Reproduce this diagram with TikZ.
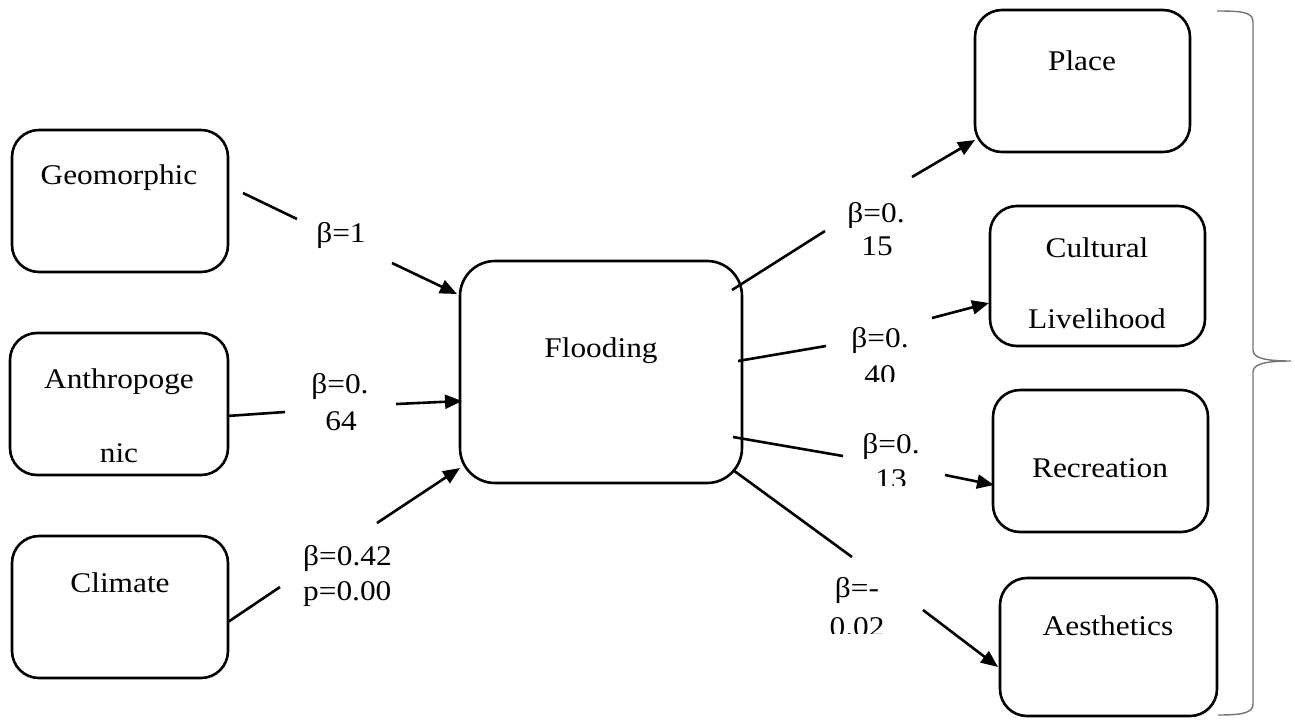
\documentclass[tikz,border=0pt]{standalone}
\usepackage{fontspec}
\setmainfont{Liberation Serif}[FakeStretch=1.1]
\usetikzlibrary{arrows.meta}
\begin{document}
\begin{tikzpicture}[x=1pt,y=-1pt,
  box/.style={draw, line width=2.6pt, rounded corners=27pt, inner sep=0pt},
  bigbox/.style={box, rounded corners=35pt},
  txt/.style={font=\fontsize{28.5}{36}\selectfont, anchor=base, inner sep=0pt},
  ltxt/.style={txt, anchor=base west},
  seg/.style={line width=2.6pt},
  arr/.style={line width=2.6pt, -{Triangle[length=17pt,width=14pt]}},
  brace/.style={draw=black!55, line width=1.4pt},
]
\useasboundingbox (0,0) rectangle (1295,723);

% ---- boxes ----
\node[box, minimum width=216pt, minimum height=142pt] (geo)   at (120,201) {};
\node[box, minimum width=218pt, minimum height=142pt] (anth)  at (119,404) {};
\node[box, minimum width=216pt, minimum height=142pt] (clim)  at (120,607) {};
\node[bigbox, minimum width=282pt, minimum height=222pt] (flood) at (601,372) {};
\node[box, minimum width=215pt, minimum height=142pt] (place) at (1082.5,81) {};
\node[box, minimum width=215pt, minimum height=140pt] (cult)  at (1097.5,276) {};
\node[box, minimum width=215pt, minimum height=142pt] (rec)   at (1100.5,461) {};
\node[box, minimum width=217pt, minimum height=138pt] (aes)   at (1108.5,647) {};

% ---- box texts ----
\node[txt] (geo-t)   at (119,184) {Geomorphic};
\node[txt] (anth-t1) at (119,388) {Anthropoge};
\node[txt] (anth-t2) at (119,462) {nic};
\node[txt] (clim-t)  at (120,592) {Climate};
\node[txt] (flood-t) at (601,357) {Flooding};
\node[txt] (place-t) at (1082,70) {Place};
\node[txt] (cult-t1) at (1097,257) {Cultural};
\node[txt] (cult-t2) at (1097,328) {Livelihood};
\node[txt] (rec-t)   at (1100,477) {Recreation};
\node[txt] (aes-t)   at (1108,635) {Aesthetics};

% ---- path coefficients ----
\node[txt] (b1)  at (341,242) {β=1};
\node[txt] (b2a) at (340,393) {β=0.};
\node[txt] (b2b) at (341,430) {64};
\node[ltxt] (b3a) at (303,565) {β=0.42};
\node[ltxt] (b3b) at (303,600) {p=0.00};
\node[txt] (b4a) at (876,222) {β=0.};
\node[txt] (b4b) at (877,255) {15};
\node[txt] (b5a) at (880,347) {β=0.};
\begin{scope}
  \clip (840,350) rectangle (930,381);
  \node[txt] (b5b) at (880,384) {40};
\end{scope}
\node[txt] (b6a) at (891,453) {β=0.};
\begin{scope}
  \clip (850,456) rectangle (940,485);
  \node[txt] (b6b) at (891,488) {13};
\end{scope}
\node[txt] (b7a) at (857,597) {β=-};
\begin{scope}
  \clip (815,604) rectangle (900,633);
  \node[txt] (b7b) at (857,636) {0.02};
\end{scope}

% ---- connector end points ----
\coordinate (g1) at (243,193); \coordinate (g2) at (297,219);
\coordinate (g3) at (392,263); \coordinate (g4) at (457,294);
\coordinate (a1) at (227,416); \coordinate (a2) at (285,412);
\coordinate (a3) at (396,404); \coordinate (a4) at (462,401);
\coordinate (c1) at (228,622); \coordinate (c2) at (280,587);
\coordinate (c3) at (377,523); \coordinate (c4) at (460,468);
\coordinate (p1) at (732,290); \coordinate (p2) at (825,231);
\coordinate (p3) at (912,177); \coordinate (p4) at (975,140);
\coordinate (l1) at (738,361); \coordinate (l2) at (826,346);
\coordinate (l3) at (932,318); \coordinate (l4) at (989,303);
\coordinate (r1) at (733,437); \coordinate (r2) at (843,456);
\coordinate (r3) at (945,475); \coordinate (r4) at (994,485);
\coordinate (e1) at (733,470); \coordinate (e2) at (852,557);
\coordinate (e3) at (923,610); \coordinate (e4) at (998,667);

% ---- connectors ----
\draw[seg] (g1) -- (g2); \draw[arr] (g3) -- (g4);
\draw[seg] (a1) -- (a2); \draw[arr] (a3) -- (a4);
\draw[seg] (c1) -- (c2); \draw[arr] (c3) -- (c4);
\draw[seg] (p1) -- (p2); \draw[arr] (p3) -- (p4);
\draw[seg] (l1) -- (l2); \draw[arr] (l3) -- (l4);
\draw[seg] (r1) -- (r2); \draw[arr] (r3) -- (r4);
\draw[seg] (e1) -- (e2); \draw[arr] (e3) -- (e4);

% ---- right-hand brace ----
\draw[brace] (1217,11) .. controls (1242,11) and (1253,12) .. (1253,22)
  -- (1253,350) .. controls (1253,357) and (1262,361) .. (1291,361)
  .. controls (1262,361) and (1253,365) .. (1253,372)
  -- (1253,704) .. controls (1253,713) and (1242,715) .. (1218,715);
\end{tikzpicture}
\end{document}
